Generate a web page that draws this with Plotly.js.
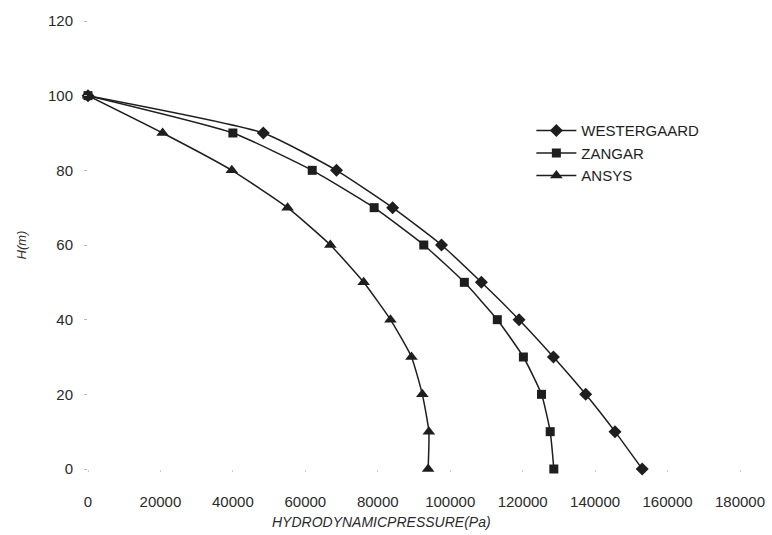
<!DOCTYPE html>
<html>
<head>
<meta charset="utf-8">
<script src="https://cdn.plot.ly/plotly-3.0.1.min.js"></script>
<style>
  html, body { margin: 0; padding: 0; background: #fff; }
  #chart { width: 772px; height: 535px; }
</style>
</head>
<body>
<div id="chart"></div>
<script>
// Depth levels H (m)
const heights = [100, 90, 80, 70, 60, 50, 40, 30, 20, 10, 0];

// Hydrodynamic pressure (Pa) at each depth level
const westergaard = [0, 48400, 68600, 84100, 97600, 108600, 119000, 128500, 137400, 145500, 153000];
const zangar      = [0, 40000, 61900, 79000, 92700, 103900, 113000, 120200, 125200, 127600, 128600];
const ansys       = [0, 20600, 39700, 55100, 66900, 76100, 83500, 89300, 92300, 94100, 93900];

const seriesNames = ['WESTERGAARD', 'ZANGAR', 'ANSYS'];
const xTicks = [0, 20000, 40000, 60000, 80000, 100000, 120000, 140000, 160000, 180000];
const yTicks = [0, 20, 40, 60, 80, 100, 120];

const ink = '#1e1e1e';
const font = 'Liberation Sans, Arial, sans-serif';

function series(name, xs, symbol, size, rank) {
  return {
    type: 'scatter',
    mode: 'lines+markers',
    name: name,
    legendrank: rank,
    x: xs,
    y: heights,
    cliponaxis: false,
    line: { color: ink, width: 1.5, shape: 'spline', smoothing: 0.5 },
    marker: { symbol: symbol, size: size, color: ink, line: { width: 0 } }
  };
}

// ZANGAR is drawn last so its square sits on top at the shared surface point
const data = [
  series(seriesNames[2], ansys, 'triangle-up', 11, 3),
  series(seriesNames[0], westergaard, 'diamond', 10, 1),
  series(seriesNames[1], zangar, 'square', 9, 2)
];

const layout = {
  width: 772,
  height: 535,
  margin: { l: 88, r: 32, t: 21, b: 66 },
  paper_bgcolor: '#fff',
  plot_bgcolor: '#fff',
  font: { family: font, size: 15, color: '#2a2a2a' },
  showlegend: true,
  legend: {
    x: 0.68, y: 0.792, xanchor: 'left', yanchor: 'top',
    traceorder: 'normal',
    bgcolor: 'rgba(255,255,255,0)',
    font: { family: font, size: 15, color: '#1e1e1e' },
    itemwidth: 40,
    tracegroupgap: 0
  },
  xaxis: {
    range: [0, 180000],
    tickvals: xTicks,
    ticktext: xTicks.map(String),
    showgrid: false,
    zeroline: false,
    showline: false,
    ticks: 'outside',
    ticklen: 2,
    tickcolor: '#cfcfcf',
    ticklabelstandoff: 17,
    tickfont: { family: font, size: 15, color: '#2a2a2a' }
  },
  yaxis: {
    range: [0, 120],
    tickvals: yTicks,
    ticktext: yTicks.map(String),
    showgrid: false,
    zeroline: false,
    showline: false,
    ticks: 'outside',
    ticklen: 3,
    tickcolor: '#b5b5b5',
    ticklabelstandoff: 8,
    tickfont: { family: font, size: 15, color: '#2a2a2a' },
    title: {
      text: 'H(m)',
      font: { family: font, size: 13, color: '#2a2a2a', style: 'italic' },
      standoff: 18
    }
  },
  annotations: [{
    text: 'HYDRODYNAMICPRESSURE(Pa)',
    xref: 'x', yref: 'paper',
    x: 80900, y: -0.118,
    xanchor: 'center', yanchor: 'middle',
    showarrow: false,
    font: { family: font, size: 14, color: '#2a2a2a', style: 'italic' }
  }]
};

Plotly.newPlot('chart', data, layout, { displayModeBar: false, staticPlot: true });
</script>
</body>
</html>
